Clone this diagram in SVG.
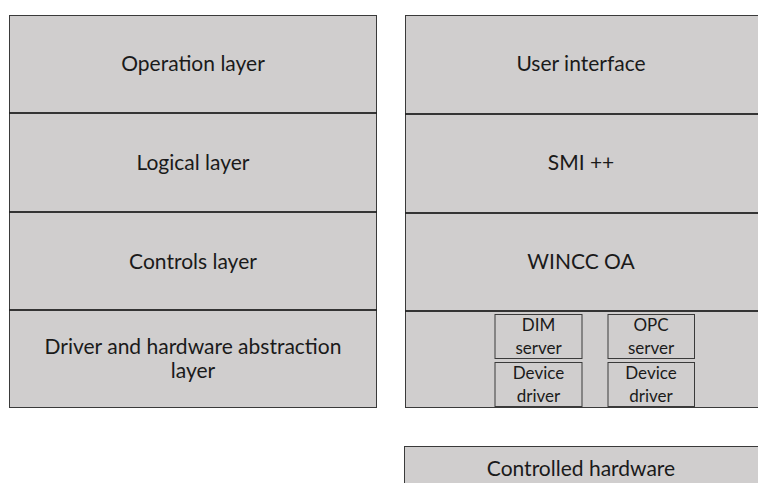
<svg xmlns="http://www.w3.org/2000/svg" width="758" height="483" viewBox="0 0 758 483">
<style>
.layer{fill:#d0cece;stroke:#3a3a3a;stroke-width:1}
.div{stroke:#000;stroke-width:1.5}
.sub{fill:#d0cece;stroke:#3a3a3a;stroke-width:1}
text{font-family:Lato,"Open Sans",sans-serif;font-size:21px;fill:#1a1a1a;text-anchor:middle}
.s{font-size:17px}
</style>
<rect width="758" height="483" fill="#fff"/>
<g id="left-stack">
<rect class="layer" x="9.5" y="15.5" width="367" height="392"/>
</g>
<g id="operation-layer"><text x="193" y="71">Operation layer</text></g>
<g id="logical-layer"><text x="193" y="170">Logical layer</text></g>
<g id="controls-layer"><text x="193" y="269">Controls layer</text></g>
<g id="driver-layer"><text x="193" y="354">Driver and hardware abstraction</text><text x="193" y="378">layer</text></g>
<g id="right-stack">
<rect class="layer" x="405.5" y="15.5" width="360" height="392"/>
</g>
<g id="user-interface"><text x="581" y="71">User interface</text></g>
<g id="smi"><text x="581" y="170">SMI ++</text></g>
<g id="wincc"><text x="581" y="269">WINCC OA</text></g>
<g id="dim-server"><rect class="sub" x="495" y="314.5" width="87" height="44"/><text class="s" x="538.5" y="331">DIM</text><text class="s" x="538.5" y="354">server</text></g>
<g id="opc-server"><rect class="sub" x="608" y="314.5" width="86.5" height="44"/><text class="s" x="651" y="331">OPC</text><text class="s" x="651" y="354">server</text></g>
<g id="device-driver-1"><rect class="sub" x="495" y="362.5" width="87" height="44"/><text class="s" x="538.5" y="379">Device</text><text class="s" x="538.5" y="402">driver</text></g>
<g id="device-driver-2"><rect class="sub" x="608" y="362.5" width="86.5" height="44"/><text class="s" x="651" y="379">Device</text><text class="s" x="651" y="402">driver</text></g>
<g id="controlled-hardware"><rect class="layer" x="404.5" y="446.5" width="360" height="45"/><text x="581" y="476">Controlled hardware</text></g>
<g id="connectors">
<line class="div" x1="9.5" y1="113" x2="376.5" y2="113"/>
<line class="div" x1="9.5" y1="212" x2="376.5" y2="212"/>
<line class="div" x1="9.5" y1="310" x2="376.5" y2="310"/>
<line class="div" x1="405.5" y1="114" x2="758" y2="114"/>
<line class="div" x1="405.5" y1="213" x2="758" y2="213"/>
<line class="div" x1="405.5" y1="311" x2="758" y2="311"/>
</g>
</svg>
